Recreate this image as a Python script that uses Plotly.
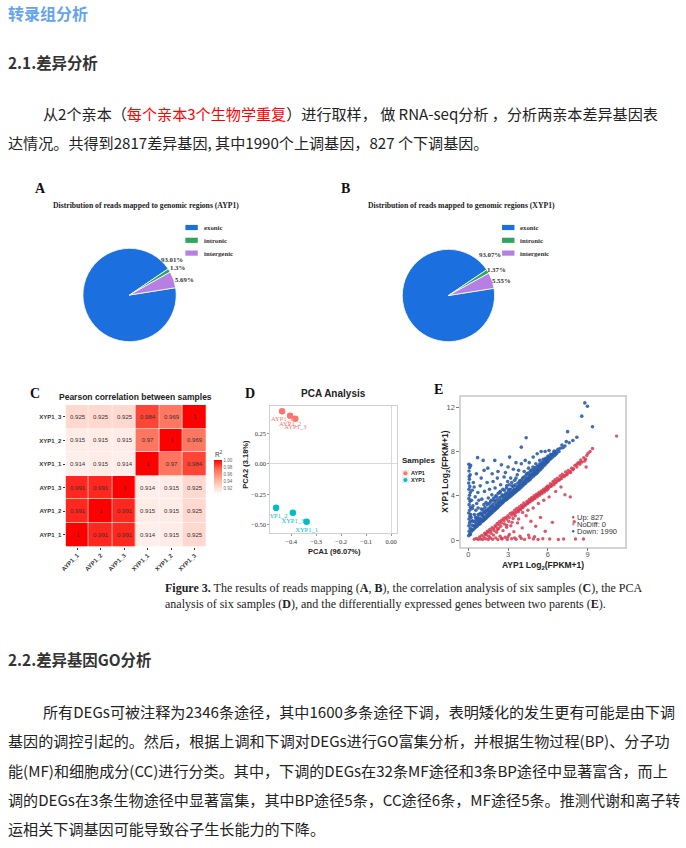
import plotly.graph_objects as go

W, H = 686, 848
CJK = "Noto Sans CJK SC"
SERIF = "Liberation Serif"
SANS = "Liberation Sans"


def fx(p):
    # 像素 -> paper 坐标
    return p / W


def fy(p):
    return 1 - p / H


# ---------- 页面文字 ----------
page_title = "转录组分析"
sec1_head = "2.1.差异分析"
sec1_lines = [
    "从2个亲本（<span style='color:#ff0000'>每个亲本3个生物学重复</span>）进行取样， 做 RNA-seq分析 ，分析两亲本差异基因表",
    "达情况。共得到2817差异基因, 其中1990个上调基因，827 个下调基因。",
]
caption_lines = [
    "<b>Figure 3.</b> The results of reads mapping (<b>A</b>, <b>B</b>), the correlation analysis of six samples (<b>C</b>), the PCA",
    "analysis of six samples (<b>D</b>), and the differentially expressed genes between two parents (<b>E</b>).",
]
sec2_head = "2.2.差异基因GO分析"
sec2_lines = [
    "所有DEGs可被注释为2346条途径，其中1600多条途径下调，表明矮化的发生更有可能是由下调",
    "基因的调控引起的。然后，根据上调和下调对DEGs进行GO富集分析，并根据生物过程(BP)、分子功",
    "能(MF)和细胞成分(CC)进行分类。其中，下调的DEGs在32条MF途径和3条BP途径中显著富含，而上",
    "调的DEGs在3条生物途径中显著富集，其中BP途径5条，CC途径6条，MF途径5条。推测代谢和离子转",
    "运相关下调基因可能导致谷子生长能力的下降。",
]

# ---------- A / B 饼图 ----------
region_labels = ["exonic", "intronic", "intergenic"]
ayp1_pct = [93.01, 1.3, 5.69]
xyp1_pct = [93.07, 1.37, 5.55]
region_colors = ["#1b6fdf", "#2fa65b", "#b67fe3"]

# ---------- C 相关性热图 (自下而上) ----------
samples = ["AYP1_1", "AYP1_2", "AYP1_3", "XYP1_1", "XYP1_2", "XYP1_3"]
corr = [
    [1, 0.991, 0.991, 0.914, 0.915, 0.925],
    [0.991, 1, 0.991, 0.915, 0.915, 0.925],
    [0.991, 0.991, 1, 0.914, 0.915, 0.925],
    [0.914, 0.915, 0.914, 1, 0.97, 0.984],
    [0.915, 0.915, 0.915, 0.97, 1, 0.969],
    [0.925, 0.925, 0.925, 0.984, 0.969, 1],
]
cbar_ticks = [0.92, 0.94, 0.96, 0.98, 1.00]

# ---------- D PCA ----------
group_names = ["AYP1", "XYP1"]
group_colors = ["#f8766d", "#00bfc4"]
ayp1_names = ["AYP1_1", "AYP1_2", "AYP1_3"]
ayp1_pc1 = [-0.436, -0.404, -0.383]
ayp1_pc2 = [0.432, 0.396, 0.371]
xyp1_names = ["XYP1_1", "XYP1_2", "XYP1_3"]
xyp1_pc1 = [-0.338, -0.460, -0.393]
xyp1_pc2 = [-0.473, -0.360, -0.400]

# ---------- E 差异基因散点 ----------
down_pts = [
    (0.03, 0.4), (0.11, 0.55), (0.06, 0.8), (0.14, 1.05), (0.04, 1.3), (0.09, 1.55), (0.17, 1.7),
    (0.05, 1.9), (0.12, 2.15), (0.03, 2.45), (0.1, 2.7), (0.16, 2.95), (0.06, 3.2), (0.13, 3.5),
    (0.04, 3.75), (0.09, 4.05), (0.15, 4.3), (0.05, 4.6), (0.11, 4.85), (0.03, 5.15), (0.08, 5.5),
    (0.14, 5.9), (0.05, 6.25), (0.1, 6.55), (0.04, 6.85), (0.17, 6.75), (0.07, 5.75), (0.18, 2.3),
    (0.22, 0.75), (0.27, 1.35), (0.21, 2.05), (0.31, 2.85), (0.24, 3.6), (0.29, 4.5), (0.33, 0.9),
    (0.37, 1.7), (0.35, 3.1), (0.38, 5.2), (0.43, 1.0), (0.48, 1.25), (0.46, 2.3), (0.52, 3.9),
    (0.44, 4.8), (0.55, 1.15), (0.58, 1.8), (0.57, 2.7), (0.63, 3.3), (0.61, 6.0), (0.66, 1.25),
    (0.71, 1.55), (0.69, 2.05), (0.74, 2.9), (0.72, 4.3), (0.7, 7.45), (0.77, 1.4), (0.82, 1.75),
    (0.79, 3.6), (0.86, 2.35), (0.88, 1.45), (0.92, 1.9), (0.9, 4.9), (0.96, 1.6), (0.99, 2.8),
    (1.02, 3.7), (0.97, 5.6), (1.06, 1.7), (1.08, 2.2), (1.12, 7.2), (1.13, 1.75), (1.16, 2.5),
    (1.18, 3.2), (1.21, 1.85), (1.24, 2.05), (1.22, 4.4), (1.19, 6.3), (1.28, 1.9), (1.31, 2.6),
    (1.34, 3.4), (1.36, 2.0), (1.39, 2.35), (1.42, 5.2), (1.45, 2.1), (1.48, 2.7), (1.51, 3.8),
    (1.47, 6.5), (1.54, 2.2), (1.57, 2.5), (1.6, 4.6), (1.63, 2.3), (1.66, 2.95), (1.69, 3.5),
    (1.72, 2.4), (1.74, 2.7), (1.78, 4.1), (1.81, 2.5), (1.83, 3.1), (1.8, 6.0), (1.87, 5.3),
    (1.9, 2.6), (1.93, 2.9), (1.96, 3.6), (1.99, 2.7), (2.02, 4.7), (2.0, 7.2), (2.06, 2.8),
    (2.09, 3.2), (2.11, 3.9), (2.14, 2.85), (2.17, 3.05), (2.19, 5.6), (2.22, 2.95), (2.26, 3.4),
    (2.24, 6.2), (2.29, 3.05), (2.33, 3.3), (2.35, 4.3), (2.38, 3.15), (2.41, 3.6), (2.44, 5.0),
    (2.5, 6.8), (2.47, 3.25), (2.52, 3.45), (2.55, 3.9), (2.58, 3.35), (2.61, 4.6), (2.64, 3.45),
    (2.67, 3.7), (2.7, 5.7), (2.73, 3.55), (2.76, 4.1), (2.8, 6.1), (2.82, 3.6), (2.85, 3.85),
    (2.88, 4.7), (2.91, 3.7), (2.94, 4.2), (2.97, 5.3), (3.0, 6.6), (3.02, 3.8), (3.06, 4.05),
    (3.09, 4.6), (3.12, 7.5), (3.14, 3.9), (3.17, 4.3), (3.2, 5.6), (3.23, 4.0), (3.27, 4.25),
    (3.3, 4.9), (3.33, 4.1), (3.37, 4.4), (3.4, 6.4), (3.43, 4.2), (3.46, 4.6), (3.5, 5.4),
    (3.53, 4.3), (3.57, 4.55), (3.6, 7.0), (3.62, 4.4), (3.66, 4.8), (3.7, 5.9), (3.73, 4.5),
    (3.77, 4.85), (3.8, 6.3), (3.83, 4.6), (3.87, 5.1), (3.91, 4.7), (3.95, 5.3), (4.0, 6.9),
    (4.0, 8.4), (4.03, 4.8), (4.07, 5.0), (4.11, 5.6), (4.15, 4.95), (4.19, 5.25), (4.22, 6.2),
    (4.3, 7.2), (4.37, 9.25), (4.26, 5.1), (4.3, 5.4), (4.34, 5.15), (4.38, 5.55), (4.42, 6.0),
    (4.46, 5.3), (4.5, 5.6), (4.55, 6.5), (4.59, 5.4), (4.62, 5.8), (4.6, 7.0), (4.67, 5.5),
    (4.71, 5.9), (4.75, 6.3), (4.8, 5.65), (4.84, 6.0), (4.88, 6.6), (4.9, 7.5), (4.93, 5.8),
    (4.97, 6.2), (5.02, 5.9), (5.06, 6.4), (5.1, 6.9), (5.14, 6.0), (5.18, 6.35), (5.2, 7.8),
    (5.23, 6.1), (5.27, 6.6), (5.32, 6.25), (5.36, 6.7), (5.4, 7.2), (5.44, 6.35), (5.48, 6.8),
    (5.5, 8.0), (5.53, 6.5), (5.58, 6.9), (5.62, 6.6), (5.66, 7.3), (5.7, 6.75), (5.75, 7.1),
    (5.8, 8.0), (5.79, 6.8), (5.84, 7.4), (5.88, 6.95), (5.93, 7.25), (5.97, 7.05), (6.02, 7.6),
    (6.06, 7.15), (6.1, 8.1), (6.13, 7.3), (6.19, 7.5), (6.24, 7.35), (6.3, 7.7), (6.38, 7.5),
    (6.45, 7.9), (6.52, 7.65), (6.6, 8.0), (6.68, 7.85), (6.77, 8.2), (6.85, 8.0), (6.95, 8.3),
    (7.07, 8.6), (7.15, 8.35), (7.3, 8.5), (7.4, 8.9), (7.5, 9.8), (7.62, 8.8), (7.9, 9.0),
    (8.2, 9.3), (8.57, 11.2), (8.8, 12.4), (9.0, 12.1), (9.38, 10.25),
    # 对角线附近的密集带
    (0.15, 0.5), (0.26, 1.0), (0.3, 1.75), (0.41, 1.3), (0.5, 1.6), (0.54, 2.05), (0.62, 1.4),
    (0.68, 1.85), (0.75, 2.3), (0.83, 1.55), (0.87, 2.0), (0.94, 2.45), (1.0, 1.8), (1.04, 2.25),
    (1.1, 2.75), (1.15, 2.0), (1.2, 2.45), (1.26, 2.95), (1.32, 2.15), (1.37, 2.7), (1.43, 3.2),
    (1.49, 2.35), (1.53, 2.85), (1.58, 3.3), (1.64, 2.55), (1.7, 3.05), (1.75, 3.6), (1.82, 2.75),
    (1.86, 3.25), (1.92, 3.8), (1.97, 2.95), (2.03, 3.45), (2.08, 4.0), (2.13, 3.1), (2.2, 3.65),
    (2.25, 4.2), (2.31, 3.35), (2.37, 3.85), (2.42, 4.4), (2.48, 3.5), (2.54, 4.1), (2.6, 3.55),
    (2.66, 4.0), (2.71, 4.5), (2.78, 3.75), (2.84, 4.25), (2.9, 4.9), (2.96, 3.95), (3.03, 4.45),
    (3.08, 5.0), (3.15, 4.15), (3.21, 4.6), (3.28, 5.2), (3.34, 4.35), (3.4, 4.85), (3.47, 4.45),
    (3.54, 5.0), (3.6, 5.6), (3.67, 4.6), (3.74, 5.15), (3.81, 4.8), (3.88, 5.35), (3.96, 4.95),
    (4.04, 5.45), (4.12, 5.15), (4.2, 5.7), (4.28, 5.3), (4.36, 5.85), (4.44, 5.5), (4.52, 6.05),
    (4.6, 5.65), (4.68, 6.2), (4.77, 5.85), (4.86, 6.35), (4.95, 6.05), (5.04, 6.55), (5.13, 6.2),
    (5.22, 6.7), (5.31, 6.4), (5.4, 6.9), (5.5, 6.6), (5.6, 7.05), (5.7, 6.95), (5.8, 7.25),
    (5.9, 7.1), (6.0, 7.45), (6.12, 7.4), (6.22, 7.75), (6.35, 7.7), (6.48, 8.05), (6.6, 7.75),
]
up_pts = [
    (0.45, 0.08), (0.62, 0.15), (0.74, 0.04), (0.85, 0.28), (0.93, 0.1), (1.02, 0.42), (1.09, 0.06),
    (1.17, 0.3), (1.23, 0.62), (1.31, 0.12), (1.36, 0.48), (1.43, 0.8), (1.5, 0.05), (1.55, 0.35),
    (1.61, 0.95), (1.67, 0.18), (1.72, 0.62), (1.79, 1.12), (1.84, 0.08), (1.9, 0.45), (1.95, 0.85),
    (2.02, 1.3), (2.07, 0.2), (2.13, 0.7), (2.18, 1.5), (2.23, 0.04), (2.29, 1.05), (2.34, 1.65),
    (2.4, 0.35), (2.45, 1.25), (2.51, 1.8), (2.5, 0.15), (2.56, 0.1), (2.62, 0.85), (2.67, 1.95),
    (2.72, 1.45), (2.78, 0.25), (2.83, 2.05), (2.89, 1.15), (2.94, 0.05), (2.99, 2.2), (3.0, 0.3),
    (3.05, 1.7), (3.1, 0.5), (3.16, 2.4), (3.21, 1.3), (3.27, 0.12), (3.33, 2.5), (3.38, 1.95),
    (3.44, 0.75), (3.5, 2.7), (3.5, 0.2), (3.55, 2.2), (3.61, 0.08), (3.66, 2.85), (3.72, 1.55),
    (3.78, 2.55), (3.84, 3.0), (3.9, 0.35), (3.95, 2.75), (4.0, 0.15), (4.01, 3.15), (4.07, 1.1),
    (4.13, 2.95), (4.19, 3.35), (4.25, 0.06), (4.31, 3.15), (4.37, 2.2), (4.43, 3.5), (4.49, 3.3),
    (4.55, 0.45), (4.6, 0.22), (4.61, 3.7), (4.67, 3.45), (4.73, 1.7), (4.79, 3.85), (4.85, 3.6),
    (4.91, 0.1), (4.97, 4.0), (5.0, 0.3), (5.03, 3.75), (5.09, 1.25), (5.15, 4.15), (5.21, 3.9),
    (5.27, 0.05), (5.33, 4.3), (5.39, 4.05), (5.45, 2.05), (5.51, 4.45), (5.57, 4.2), (5.63, 0.12),
    (5.69, 4.6), (5.75, 4.35), (5.81, 0.8), (5.87, 4.75), (5.93, 4.5), (5.99, 4.9), (6.05, 4.65),
    (6.15, 0.1), (6.2, 5.1), (6.26, 4.85), (6.35, 1.6), (6.4, 5.3), (6.47, 5.0), (6.55, 5.45),
    (6.63, 5.2), (6.72, 5.6), (6.8, 0.05), (6.85, 5.4), (6.93, 5.8), (7.02, 5.55), (7.1, 5.95),
    (7.2, 0.1), (7.25, 5.75), (7.3, 4.1), (7.35, 6.15), (7.45, 5.9), (7.55, 6.3), (7.7, 3.9),
    (7.72, 6.1), (7.8, 6.5), (7.9, 6.35), (8.0, 1.65), (8.05, 6.75), (8.1, 0.1), (8.2, 6.6),
    (8.3, 7.0), (8.42, 6.85), (8.5, 7.25), (8.6, 7.05), (8.7, 0.1), (8.72, 7.45), (8.9, 6.6),
    (8.85, 7.3), (8.95, 7.65), (9.05, 7.85), (9.2, 8.0), (9.38, 8.28), (11.2, 9.4),
    # 对角线下方的密集带
    (1.3, 0.55), (1.5, 0.7), (1.7, 0.85), (1.9, 1.05), (2.1, 1.2), (2.3, 1.4), (2.5, 1.55),
    (2.7, 1.75), (2.9, 1.9), (3.1, 2.05), (3.3, 2.25), (3.45, 2.4), (3.6, 2.5), (3.75, 2.7),
    (3.9, 2.8), (4.05, 2.95), (4.2, 3.1), (4.35, 3.25), (4.5, 3.4), (4.65, 3.55), (4.8, 3.7),
    (4.95, 3.8), (5.1, 3.95), (5.25, 4.1), (5.4, 4.2), (5.55, 4.35), (5.7, 4.45), (5.85, 4.6),
    (6.0, 4.75), (6.15, 4.85), (6.3, 5.0), (6.5, 5.15), (6.7, 5.35), (6.9, 5.5), (7.1, 5.7),
    (7.3, 5.85), (7.5, 6.05), (7.7, 6.2), (7.95, 6.45), (8.2, 6.85), (8.45, 7.05), (8.8, 7.15),
    (2.2, 0.95), (2.9, 1.35), (3.3, 1.6), (3.8, 1.9), (4.1, 2.5), (4.5, 2.7), (4.9, 2.9),
    (5.3, 3.3), (5.7, 3.6), (6.1, 3.9), (6.6, 4.4), (7.0, 4.8),
]
de_labels = ["Up", "NoDiff", "Down"]
de_counts = [827, 0, 1990]
de_colors = ["#d7384f", "#9e9e9e", "#2b5ca8"]

fig = go.Figure()
ann = []
shapes = []


def note(text, x, y, size, color="#222", family=CJK, xanchor="left", angle=0):
    ann.append(dict(text=text, x=fx(x), y=fy(y), xref="paper", yref="paper",
                    showarrow=False, xanchor=xanchor, yanchor="middle", textangle=angle,
                    borderpad=0, borderwidth=0,
                    font=dict(size=size, color=color, family=family)))


# ---- 文字部分 ----
BODY = 15.1
note("<b>" + page_title + "</b>", 3, 12.5, 16, color="#66a3ef")
note("<b>" + sec1_head + "</b>", 3, 62, 15.4, color="#333")
note(sec1_lines[0], 38, 113, BODY)
note(sec1_lines[1], 3, 142, BODY)
for i, line in enumerate(caption_lines):
    note(line, 161, 588.3 + i * 16, 12, color="#222", family=SERIF)
note("<b>" + sec2_head + "</b>", 3, 659, 15.4, color="#333")
for i, line in enumerate(sec2_lines):
    note(line, 38 if i == 0 else 3, 711 + i * 29.3, BODY)


# ---- 饼图 ----
def add_pie(pct, name, cx, cy, r, title_x, leg_x, lab_pos):
    fig.add_trace(go.Pie(
        labels=region_labels, values=pct, sort=False, direction="clockwise", rotation=81,
        marker=dict(colors=region_colors, line=dict(color="white", width=0.8)),
        textinfo="none", showlegend=False, name=name,
        domain=dict(x=[fx(cx - r), fx(cx + r)], y=[fy(cy + r), fy(cy - r)]),
    ))
    note("<b>Distribution of reads mapped to genomic regions (%s)</b>" % name,
         title_x, 205.5, 7.7, color="#222", family=SERIF, xanchor="center")
    for k, lab in enumerate(region_labels):
        ly = 227.5 + k * 12.8
        shapes.append(dict(type="rect", xref="paper", yref="paper",
                           x0=fx(leg_x), x1=fx(leg_x + 12.5), y0=fy(ly + 2.6), y1=fy(ly - 2.6),
                           fillcolor=region_colors[k], line=dict(width=0)))
        note("<b>" + lab + "</b>", leg_x + 18.3, ly, 6.8, color="#333", family=SERIF)
        note("<b>%s%%</b>" % pct[k], lab_pos[k][0], lab_pos[k][1], 6.8, color="#333", family=SERIF)


add_pie(ayp1_pct, "AYP1", 125.5, 295.0, 47.0, 141.7, 181.7, [(157, 259), (166, 267), (171, 279)])
add_pie(xyp1_pct, "XYP1", 446.7, 295.5, 46.5, 460.0, 500.7, [(477, 255), (486, 269), (491, 280.3)])

# ---- C 热图 ----
fig.add_trace(go.Heatmap(
    z=corr, x=samples, y=samples, xaxis="x", yaxis="y",
    text=[[f"{v:g}" for v in row] for row in corr], texttemplate="%{text}",
    textfont=dict(size=6, color="#333", family=SANS),
    colorscale=[[0, "#ffffff"], [0.25, "#ffd2c6"], [0.5, "#ff9f89"], [0.75, "#ff6650"], [1, "#ff0000"]],
    zmin=0.905, zmax=1.0, xgap=0.6, ygap=0.6,
    colorbar=dict(x=fx(211), xanchor="left", y=fy(460), yanchor="top",
                  len=34, lenmode="pixels", thickness=8.4, thicknessmode="pixels",
                  outlinewidth=0, xpad=0, ypad=0, ticks="",
                  tickvals=cbar_ticks, ticktext=["%.2f" % t for t in cbar_ticks],
                  tickfont=dict(size=4.5, color="#666", family=SANS)),
))
note("R<sup>2</sup>", 215.5, 453.5, 6.5, color="#333", family=SANS, xanchor="center")
note("<b>Pearson correlation between samples</b>", 131.7, 396.7, 8.5, color="#222",
     family=SANS, xanchor="center")

# ---- D PCA ----
for g, nm, pc1, pc2 in [(0, ayp1_names, ayp1_pc1, ayp1_pc2), (1, xyp1_names, xyp1_pc1, xyp1_pc2)]:
    fig.add_trace(go.Scatter(
        x=pc1, y=pc2, text=nm, mode="markers+text", textposition="bottom center",
        textfont=dict(size=6.5, color=group_colors[g], family=SERIF),
        marker=dict(size=6.5, color=group_colors[g]), xaxis="x2", yaxis="y2",
        showlegend=False, cliponaxis=True,
    ))
note("<b>PCA Analysis</b>", 331, 393.5, 10, color="#222", family=SANS, xanchor="center")
note("<b>PCA1 (96.07%)</b>", 331.5, 551, 7.5, color="#222", family=SANS, xanchor="center")
note("<b>PCA2 (3.18%)</b>", 242.3, 464.3, 7.5, color="#222", family=SANS, xanchor="center", angle=-90)
note("<b>Samples</b>", 400, 460, 8, color="#222", family=SANS)
for g, gname in enumerate(group_names):
    ky = 473.3 + g * 6.7
    shapes.append(dict(type="rect", xref="paper", yref="paper",
                       x0=fx(400), x1=fx(406.7), y0=fy(ky + 3.3), y1=fy(ky - 3.3),
                       fillcolor="#ebebeb", line=dict(width=0)))
    shapes.append(dict(type="circle", xref="paper", yref="paper",
                       x0=fx(401.3), x1=fx(405.4), y0=fy(ky + 2), y1=fy(ky - 2),
                       fillcolor=group_colors[g], line=dict(width=0)))
    note("<b>" + gname + "</b>", 409, ky, 5.5, color="#222", family=SANS)

# ---- E 散点 ----
fig.add_trace(go.Scatter(
    x=[p[0] for p in down_pts], y=[p[1] for p in down_pts], mode="markers",
    marker=dict(size=3.6, color=de_colors[2], opacity=0.9), xaxis="x3", yaxis="y3",
    showlegend=False,
))
fig.add_trace(go.Scatter(
    x=[p[0] for p in up_pts], y=[p[1] for p in up_pts], mode="markers",
    marker=dict(size=3.4, color=de_colors[0], opacity=0.85), xaxis="x3", yaxis="y3",
    showlegend=False,
))
for k, lab in enumerate(de_labels):
    ly = 517.3 + k * 7
    shapes.append(dict(type="circle", xref="paper", yref="paper",
                       x0=fx(571.2), x1=fx(573.6), y0=fy(ly + 1.2), y1=fy(ly - 1.2),
                       fillcolor=de_colors[k], line=dict(width=0)))
    note("%s: %d" % (lab, de_counts[k]), 576.5, ly, 7.5, color="#333", family=SANS)
note("<b>AYP1 Log<sub>2</sub>(FPKM+1)</b>", 541.7, 565, 8.5, color="#222", family=SANS, xanchor="center")
note("<b>XYP1 Log<sub>2</sub>(FPKM+1)</b>", 443.5, 471.5, 8.5, color="#222", family=SANS,
     xanchor="center", angle=-90)

# ---- 面板字母 ----
for lab, x, y in [("A", 36, 188), ("B", 343, 188), ("C", 30, 393.3), ("D", 246.7, 393.3), ("E", 436.7, 389)]:
    note("<b>" + lab + "</b>", x, y, 14, color="#111", family=SERIF, xanchor="center")

frame = dict(showline=True, mirror=True, showgrid=False)
fig.update_layout(
    width=W, height=H, margin=dict(l=0, r=0, t=0, b=0),
    paper_bgcolor="white", plot_bgcolor="white", font=dict(family=SANS),
    annotations=ann, shapes=shapes,
    xaxis=dict(domain=[fx(61), fx(202.7)], anchor="y", tickangle=-45, ticks="outside", ticklen=2,
               tickcolor="#333", showgrid=False, zeroline=False,
               tickfont=dict(size=6, color="#333", family=SANS, weight="bold")),
    yaxis=dict(domain=[fy(546.7), fy(405)], anchor="x", ticks="outside", ticklen=2,
               tickcolor="#333", showgrid=False, zeroline=False,
               tickfont=dict(size=6, color="#333", family=SANS, weight="bold")),
    xaxis2=dict(domain=[fx(267.3), fx(395)], anchor="y2", range=[-0.483, 0.024],
                tickvals=[-0.4, -0.3, -0.2, -0.1, 0],
                ticktext=["\u22120.4", "\u22120.3", "\u22120.2", "\u22120.1", "0.00"],
                ticks="outside", ticklen=2, tickcolor="#999", linecolor="#d0d0d0",
                zeroline=True, zerolinecolor="#d9d9d9", zerolinewidth=1,
                tickfont=dict(size=6.5, color="#333", family=SERIF), **frame),
    yaxis2=dict(domain=[fy(533), fy(406)], anchor="x2", range=[-0.566, 0.475],
                tickvals=[0.25, 0, -0.25, -0.5],
                ticktext=["0.25", "0.00", "\u22120.25", "\u22120.50"],
                ticks="outside", ticklen=2, tickcolor="#999", linecolor="#d0d0d0",
                zeroline=True, zerolinecolor="#d9d9d9", zerolinewidth=1,
                tickfont=dict(size=6.5, color="#333", family=SERIF), **frame),
    xaxis3=dict(domain=[fx(459), fx(625)], anchor="y3", range=[-0.58, 11.87],
                tickvals=[0, 3, 6, 9], ticks="outside", ticklen=2.5, tickcolor="#777",
                ticklabelstandoff=-3,
                linecolor="#d4d4d4", linewidth=1.5, zeroline=False,
                tickfont=dict(size=7.5, color="#555", family=SANS), **frame),
    yaxis3=dict(domain=[fy(546.7), fy(396.7)], anchor="x3", range=[-0.6, 12.96],
                tickvals=[0, 4, 8, 12], ticks="outside", ticklen=2.5, tickcolor="#777",
                linecolor="#d4d4d4", linewidth=1.5, zeroline=False,
                tickfont=dict(size=7.5, color="#555", family=SANS), **frame),
)

# 页面默认 8px 边距去掉, 让图正好铺满窗口; 不显示工具栏
fig.write_html("out.html", config={"displayModeBar": False},
               post_script="document.body.style.margin='0px';")
